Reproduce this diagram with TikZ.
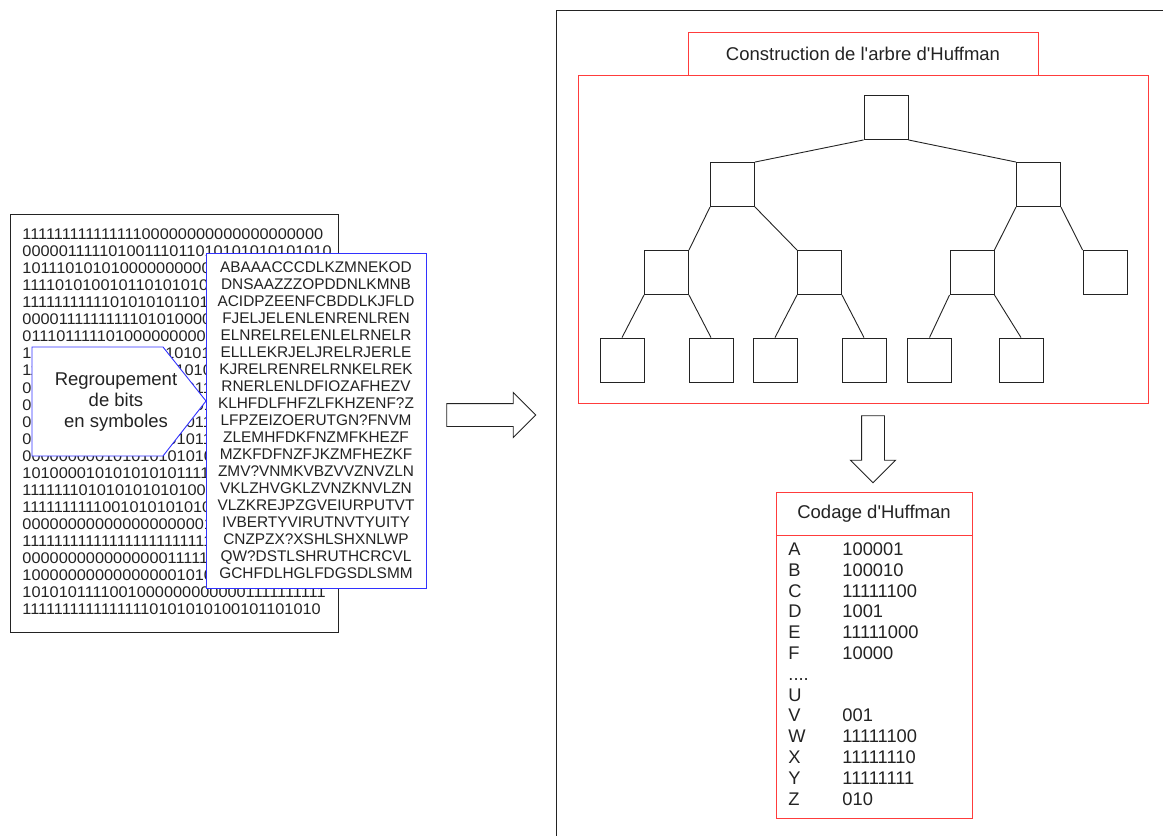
\documentclass[tikz,border=0pt]{standalone}
\usepackage{fontspec}
\setmainfont{Liberation Sans}
\usetikzlibrary{shapes.arrows}
\definecolor{framered}{RGB}{255,60,60}
\definecolor{frameblue}{RGB}{50,50,255}
\definecolor{inkgray}{RGB}{35,35,35}
\begin{document}
\begin{tikzpicture}[x=1pt,y=-1pt,line width=.9pt,color=inkgray,
  bitrow/.style={anchor=west,inner sep=0,text height=11pt,text depth=0pt,font=\fontsize{15.4}{17}\selectfont},
  symrow/.style={inner sep=0,text height=11pt,text depth=0pt,font=\fontsize{15.4}{17}\selectfont},
  bluebox/.style={draw=frameblue,fill=white,inner sep=0},
  redbox/.style={draw=framered,fill=white,inner sep=0},
  treebox/.style={draw,fill=white,minimum size=44pt,inner sep=0},
  blockarrow/.style={single arrow,draw,fill=white,inner sep=11pt,single arrow head extend=11pt,single arrow tip angle=90},
  bigtext/.style={font=\fontsize{18.5}{20.6}\selectfont},
  coderow/.style={anchor=west,inner sep=0,text height=13pt,text depth=0pt,font=\fontsize{18.3}{20}\selectfont}]
  \useasboundingbox (0,0) rectangle (1163,836);

  \node[draw,minimum width=328pt,minimum height=418pt,inner sep=0] (bitframe) at (174,423) {};
  \foreach \bits [count=\i] in {11111111111111100000000000000000000,00000111110100111011010101010101010,
    10111010101000000000000000000000000,11110101001011010101010101001010101,11111111111010101011010101011010101,
    00001111111111010100001010101010101,01110111110100000000000010101010101,10101110101010101010110101010101010,
    11010101010101010101000010101010101,01010101010101010101110101010101010,00101010101010101010101010101010101,
    00010101010101010101111010101010101,01010101010101010101111101010101010,00000000010101010101010101010101010,
    10100001010101010111111111111111111,11111110101010101010000000000000000,11111111110010101010101010101010101,
    00000000000000000000101010101010101,11111111111111111111111111111111111,00000000000000001111111111111111111,
    10000000000000000101010101010101010,10101011110010000000000001111111111,11111111111111110101010100101101010} {
    \node[bitrow] (bit\i) at (22,217+17.05*\i) {\scalebox{1.06}[1]{\bits}};
  }

  \node[bluebox,minimum width=220pt,minimum height=335pt] (symframe) at (316,420.5) {};
  \foreach \syms [count=\i] in {ABAAACCCDLKZMNEKOD,DNSAAZZZOPDDNLKMNB,ACIDPZEENFCBDDLKJFLD,FJELJELENLENRENLREN,
    ELNRELRELENLELRNELR,ELLLEKRJELJRELRJERLE,KJRELRENRELRNKELREK,RNERLENLDFIOZAFHEZV,KLHFDLFHFZLFKHZENF?Z,
    LFPZEIZOERUTGN?FNVM,ZLEMHFDKFNZMFKHEZF,MZKFDFNZFJKZMFHEZKF,ZMV?VNMKVBZVVZNVZLN,VKLZHVGKLZVNZKNVLZN,
    VLZKREJPZGVEIURPUTVT,IVBERTYVIRUTNVTYUITY,CNZPZX?XSHLSHXNLWP,QW?DSTLSHRUTHCRCVL,GCHFDLHGLFDGSDLSMM} {
    \node[symrow] (sym\i) at (316,250+17*\i) {\syms};
  }

  \draw[draw=frameblue,fill=white] (32,347) -- (163,347) -- (206,401) -- (163,456) -- (32,456) -- cycle;
  \node[bigtext,align=center] (regroup) at (116,402) {Regroupement\\de bits\\en symboles};

  \node[blockarrow,minimum height=89pt] (toright) at (485.5,415) {};

  \draw (1163,10) -- (556,10) -- (556,836);
  \node[redbox,bigtext,minimum width=350pt,minimum height=43pt] (treetitle) at (863,53.5) {Construction de l\textquotesingle arbre d\textquotesingle Huffman};
  \node[draw=framered,minimum width=570pt,minimum height=328pt,inner sep=0] (treeframe) at (863,239) {};

  \node[treebox] (root) at (886,117.5) {};
  \node[treebox] (l) at (732.5,184.5) {};
  \node[treebox] (r) at (1038.5,184.5) {};
  \foreach \name/\x in {ll/666.5,lr/819.5,rl/972,rr/1105} {
    \node[treebox] (\name) at (\x,272.5) {};
  }
  \foreach \name/\x in {lll/622,llr/711,lrl/775,lrr/864,rll/929.5,rlr/1021} {
    \node[treebox] (\name) at (\x,360) {};
  }
  \foreach \a/\b in {root/l,l/ll,r/rl} {
    \draw (\a.south west) -- (\b.north east);
  }
  \foreach \a/\b in {root/r,l/lr,r/rr} {
    \draw (\a.south east) -- (\b.north west);
  }
  \foreach \a/\b in {ll/lll,lr/lrl,rl/rll} {
    \draw (\a.south west) -- (\b.north);
  }
  \foreach \a/\b in {ll/llr,lr/lrr,rl/rlr} {
    \draw (\a.south east) -- (\b.north);
  }

  \node[blockarrow,shape border rotate=270,minimum height=67pt] (todown) at (873,443.5) {};

  \node[redbox,bigtext,minimum width=196pt,minimum height=43pt] (codtitle) at (874,513.5) {Codage d\textquotesingle Huffman};
  \node[redbox,minimum width=196pt,minimum height=283pt] (codbody) at (874,676.5) {};
  \foreach \sym/\code/\k in {A/100001/0,B/100010/1,C/11111100/2,D/1001/3,E/11111000/4,F/10000/5,
    U//7,V/001/8,W/11111100/9,X/11111110/10,Y/11111111/11,Z/010/12} {
    \node[coderow] (letter\k) at (788,549+20.8*\k) {\sym};
    \node[coderow] (code\k) at (842,549+20.8*\k) {\code};
  }
  \node[coderow] (letter6) at (788,549+20.8*6) {....};
\end{tikzpicture}
\end{document}
